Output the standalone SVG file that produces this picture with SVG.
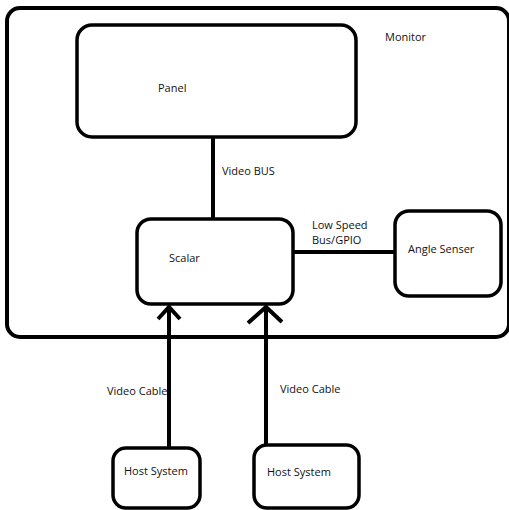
<svg xmlns="http://www.w3.org/2000/svg" width="509" height="510" viewBox="0 0 509 510">
<style>
.box{fill:#fff;stroke:#000;stroke-width:3.5}
.outer{fill:#fff;stroke:#000;stroke-width:4}
.ln{fill:none;stroke:#000;stroke-width:4;stroke-linecap:butt}
.hd{fill:none;stroke:#000;stroke-width:4;stroke-linecap:butt;stroke-linejoin:miter}
text{font-family:"Open Sans","Liberation Sans",sans-serif;font-size:11px;fill:#111}
</style>
<rect width="509" height="510" fill="#fff"/>
<g id="monitor">
<rect class="outer" x="7" y="8" width="502" height="329" rx="13"/>
<text x="385" y="41">Monitor</text>
</g>
<g id="panel">
<rect class="box" x="77" y="25" width="279" height="112" rx="15"/>
<text x="158" y="92">Panel</text>
</g>
<g id="scalar">
<rect class="box" x="137" y="219" width="156" height="85" rx="14"/>
<text x="169" y="262">Scalar</text>
</g>
<g id="angle">
<rect class="box" x="395" y="211" width="106" height="85" rx="14"/>
<text x="408" y="253">Angle Senser</text>
</g>
<g id="host1">
<rect class="box" x="113" y="448" width="87" height="60" rx="13"/>
<text x="124" y="475">Host System</text>
</g>
<g id="host2">
<rect class="box" x="254" y="445" width="105" height="63" rx="13"/>
<text x="267" y="476">Host System</text>
</g>
<g id="connectors">
<line class="ln" x1="213" y1="137" x2="213" y2="219"/>
<text x="222" y="175">Video BUS</text>
<line class="ln" x1="293" y1="252" x2="395" y2="252"/>
<text x="312" y="229">Low Speed</text>
<text x="312" y="244">Bus/GPIO</text>
<line class="ln" x1="169" y1="448" x2="169" y2="306"/>
<polyline class="hd" points="158,319 169,307 180,319"/>
<text x="107" y="395">Video Cable</text>
<line class="ln" x1="266" y1="445" x2="266" y2="306"/>
<polyline class="hd" points="248,323 266,307 282,322"/>
<text x="280" y="393">Video Cable</text>
</g>
</svg>
